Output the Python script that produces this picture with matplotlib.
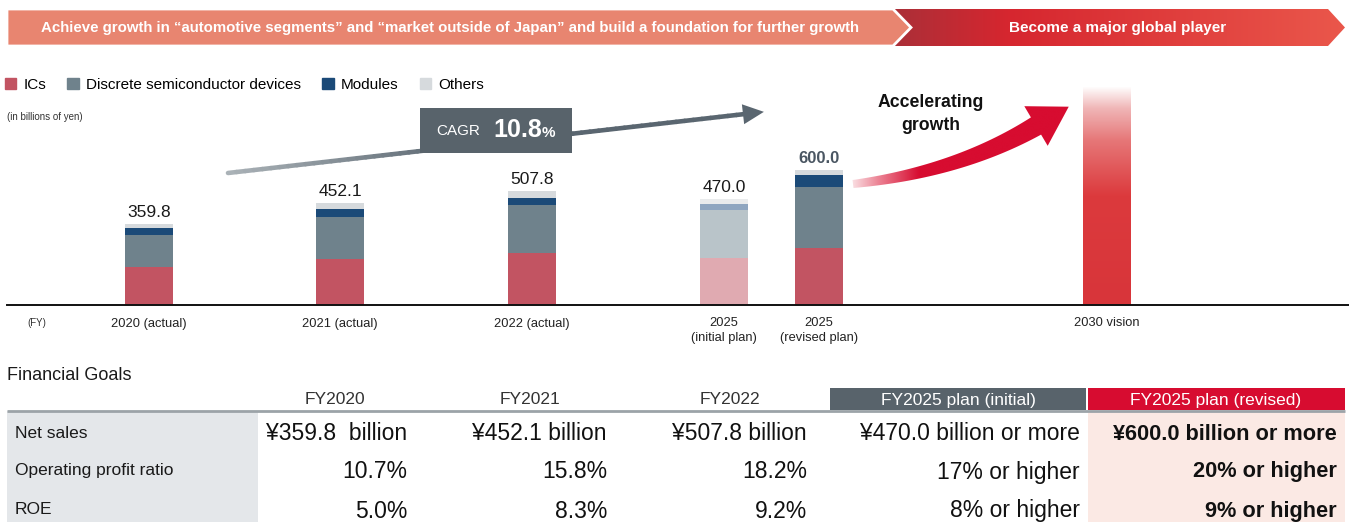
import numpy as np
import matplotlib
matplotlib.use("Agg")
import matplotlib.pyplot as plt
from matplotlib.patches import Polygon, Rectangle, Patch
from matplotlib.collections import LineCollection
from matplotlib.colors import to_rgba, LinearSegmentedColormap

plt.rcParams['font.family'] = ['Liberation Sans', 'DejaVu Sans']

# net sales by segment (billions of yen)
categories = ['2020 (actual)', '2021 (actual)', '2022 (actual)',
              '2025\n(initial plan)', '2025\n(revised plan)', '2030 vision']
ics = [169.0, 203.0, 233.0, 208.0, 255.0]
discrete = [142.0, 186.0, 212.0, 213.0, 270.0]
modules = [31.0, 36.0, 31.0, 27.0, 53.0]
others = [17.8, 27.1, 31.8, 22.0, 22.0]
totals = [359.8, 452.1, 507.8, 470.0, 600.0]
vision_level = 970.0
cagr = '10.8'

# financial goals table
table_cols = ['FY2020', 'FY2021', 'FY2022', 'FY2025 plan (initial)', 'FY2025 plan (revised)']
row_labels = ['Net sales', 'Operating profit ratio', 'ROE']
net_sales = ['¥359.8  billion', '¥452.1 billion', '¥507.8 billion',
             '¥470.0 billion or more', '¥600.0 billion or more']
op_ratio = ['10.7%', '15.8%', '18.2%', '17% or higher', '20% or higher']
roe = ['5.0%', '8.3%', '9.2%', '8% or higher', '9% or higher']

seg_names = ['ICs', 'Discrete semiconductor devices', 'Modules', 'Others']
seg_colors = ['#c25462', '#6f828c', '#1b4a78', '#d6dadd']
seg_faded = ['#e0aab1', '#b9c4c9', '#8fa6c0', '#e9ebec']

W, H = 1349, 522
fig = plt.figure(figsize=(W / 100, H / 100), dpi=100)

# ---- bar chart (x in layout pixels, y in billions of yen) ----
base_y, top_y = 305, 80
ax = fig.add_axes([7 / W, (H - base_y) / H, (W - 7) / W, (base_y - top_y) / H])
xpos = [149, 340, 532, 724, 819, 1107]
bw = 48

actual_idx = [0, 1, 2, 4]
xa = [xpos[i] for i in actual_idx]
bottom = np.zeros(len(actual_idx))
for vals, col, name in zip([ics, discrete, modules, others], seg_colors, seg_names):
    v = np.array([vals[i] for i in actual_idx])
    ax.bar(xa, v, bw, bottom=bottom, color=col, label=name, linewidth=0)
    bottom += v

# initial plan drawn in lighter tones
b0 = 0.0
for vals, col in zip([ics, discrete, modules, others], seg_faded):
    ax.bar(xpos[3], vals[3], bw, bottom=b0, color=col, linewidth=0)
    b0 += vals[3]

for i, t in enumerate(totals):
    bold = i == 4
    ax.annotate(f'{t:.1f}', (xpos[i], t), xytext=(0, 3), textcoords='offset points',
                ha='center', va='bottom', fontsize=12 if bold else 12.5,
                fontweight='bold' if bold else 'normal',
                color='#4a5662' if bold else '#1a1a1a')

# 2030 vision bar with vertical fade
vb = ax.bar(xpos[5], vision_level, bw, color='none', linewidth=0)[0]
vcmap = LinearSegmentedColormap.from_list('vision', [
    (0.0, '#d8353a'), (0.5, '#dc3a3d'), (0.75, '#e67677'), (0.9, '#f0b6b7'), (1.0, '#ffffff')])
grad = np.linspace(0, 1, 256).reshape(-1, 1)
im = ax.imshow(grad, cmap=vcmap, origin='lower', aspect='auto', interpolation='bilinear',
               extent=[xpos[5] - bw / 2, xpos[5] + bw / 2, 0, vision_level])
im.set_clip_path(vb)

ax.set_xlim(7, W)
ax.set_ylim(0, (base_y - top_y) / 0.225)
ax.set_xticks(xpos, categories, fontsize=9.3, color='#222222', linespacing=1.3)
ax.tick_params(axis='x', length=0, pad=9)
ax.set_yticks([])
for s in ['top', 'right', 'left']:
    ax.spines[s].set_visible(False)
ax.spines['bottom'].set_linewidth(1.4)
ax.spines['bottom'].set_color('#111111')
ax.patch.set_alpha(0)

ax.legend(handles=[Patch(color=c) for c in seg_colors], labels=seg_names, ncol=4,
          loc='upper left', bbox_to_anchor=(5 / W, 1 - 78 / H), bbox_transform=fig.transFigure,
          frameon=False, fontsize=11, handlelength=0.75, handleheight=0.75,
          handletextpad=0.45, columnspacing=1.4, borderpad=0, borderaxespad=0)

# ---- overlay in pixel coordinates for banners, arrows and table ----
ov = fig.add_axes([0, 0, 1, 1], zorder=5)
ov.set_xlim(0, W)
ov.set_ylim(H, 0)
ov.axis('off')
ov.patch.set_alpha(0)


def hgrad(x0, x1, y0, y1, stops, clip):
    cm = LinearSegmentedColormap.from_list('g', stops)
    g = np.linspace(0, 1, 512).reshape(1, -1)
    img = ov.imshow(g, cmap=cm, aspect='auto', interpolation='bilinear',
                    extent=[x0, x1, y1, y0], zorder=clip.get_zorder())
    img.set_clip_path(clip)
    return img


# top banner
right_ban = Polygon([(895, 9), (1328, 9), (1345, 27.5), (1328, 46), (895, 46)],
                    closed=True, facecolor='none', edgecolor='none', zorder=1)
ov.add_patch(right_ban)
hgrad(895, 1345, 9, 46, [(0, '#ab2f38'), (0.25, '#d6262f'), (1, '#ea574b')], right_ban)
left_ban = Polygon([(7, 9), (893, 9), (911, 27.5), (893, 46), (7, 46)], closed=True,
                   facecolor='#e88570', edgecolor='white', linewidth=2, zorder=2)
ov.add_patch(left_ban)
ov.text(450, 28, 'Achieve growth in \u201cautomotive segments\u201d and \u201cmarket outside of Japan\u201d '
        'and build a foundation for further growth', color='white', fontsize=10.8,
        fontweight='bold', ha='center', va='center', zorder=3)
ov.text(1118, 28, 'Become a major global player', color='white', fontsize=11,
        fontweight='bold', ha='center', va='center', zorder=3)

ov.text(7, 117, '(in billions of yen)', fontsize=7, color='#333333', va='center')
ov.text(27, 323, '(FY)', fontsize=7, color='#333333', va='center')

# CAGR trend arrow
p0 = np.array([228.0, 173.0])
p1 = np.array([745.0, 114.0])
n_seg = 60
pts = p0 + (p1 - p0) * np.linspace(0, 1, n_seg + 1)[:, None]
segs = np.stack([pts[:-1], pts[1:]], axis=1)
c0, c1 = np.array(to_rgba('#aab2b7')), np.array(to_rgba('#5a6670'))
cols = c0 + (c1 - c0) * np.clip(np.linspace(0, 1, n_seg)[:, None] * 2.2, 0, 1)
ov.add_collection(LineCollection(segs, colors=cols, linewidths=3.3, capstyle='round', zorder=2))
u = (p1 - p0) / np.linalg.norm(p1 - p0)
nrm = np.array([-u[1], u[0]])
ov.add_patch(Polygon([p1 + 19 * u, p1 + 10 * nrm - 2 * u, p1 - 10 * nrm - 2 * u],
                     closed=True, facecolor='#5a6670', edgecolor='none', zorder=2))
ov.add_patch(Rectangle((420, 108), 152, 45, facecolor='#58636b', edgecolor='none', zorder=3))
ov.text(436, 131, 'CAGR', color='white', fontsize=11, va='center', zorder=4)
ov.text(493, 130, cagr, color='white', fontsize=18, fontweight='bold', va='center', zorder=4)
ov.text(542, 133, '%', color='white', fontsize=11, fontweight='bold', va='center', zorder=4)

# curved "accelerating growth" arrow
q0, q1, q2 = np.array([853.0, 184.0]), np.array([958.0, 172.0]), np.array([1036.0, 126.0])
t = np.linspace(0, 1, 80)[:, None]
curve = (1 - t) ** 2 * q0 + 2 * (1 - t) * t * q1 + t ** 2 * q2
tang = 2 * (1 - t) * (q1 - q0) + 2 * t * (q2 - q1)
tang = tang / np.linalg.norm(tang, axis=1, keepdims=True)
norm = np.column_stack([-tang[:, 1], tang[:, 0]])
half = 4.0 + 6.0 * t
upper = curve + half * norm
lower = curve - half * norm
ue, ne = tang[-1], norm[-1]
head = [q2 + 23 * ne, q2 + 38 * ue, q2 - 23 * ne]
poly = np.vstack([upper, head, lower[::-1]])
red_arrow = Polygon(poly, closed=True, facecolor='none', edgecolor='none', zorder=2)
ov.add_patch(red_arrow)
hgrad(850, 1080, 90, 200, [(0, '#fbe6e9'), (0.12, '#ec8596'), (0.3, '#d70c30'), (1, '#d70c30')],
      red_arrow)
ov.text(931, 114, 'Accelerating\ngrowth', fontsize=12.7, fontweight='bold',
        ha='center', va='center', linespacing=1.4, color='#111111')

# ---- financial goals table ----
ov.text(7, 376, 'Financial Goals', fontsize=13, color='#1a1a1a', va='center')
ov.add_patch(Rectangle((830, 388), 256, 22, facecolor='#58636b', edgecolor='none'))
ov.add_patch(Rectangle((1088, 388), 257, 22, facecolor='#d70c30', edgecolor='none'))
ov.add_patch(Rectangle((7, 411), 251, H - 411, facecolor='#e4e7ea', edgecolor='none'))
ov.add_patch(Rectangle((1088, 411), 257, H - 411, facecolor='#fbe9e4', edgecolor='none'))
ov.plot([7, 1345], [411, 411], color='#9ca3a8', linewidth=2, solid_capstyle='butt')

head_x = [335, 530, 730, 958, 1216]
right_x = [407, 607, 807, 1080, 1337]
for j, name in enumerate(table_cols):
    ov.text(head_x[j], 400, name, fontsize=12.5, ha='center', va='center',
            color='white' if j >= 3 else '#333333')

row_y = [432, 470, 509]
for r, (lab, vals) in enumerate(zip(row_labels, [net_sales, op_ratio, roe])):
    ov.text(15, row_y[r] + 1, lab, fontsize=12.5, va='center', color='#1a1a1a')
    for j, v in enumerate(vals):
        bold = j == 4
        ov.text(right_x[j], row_y[r] + 2, v, fontsize=15.7 if bold else 16.5, ha='right',
                va='center', color='#111111', fontweight='bold' if bold else 'normal')

fig.savefig('out.png', dpi=100)
